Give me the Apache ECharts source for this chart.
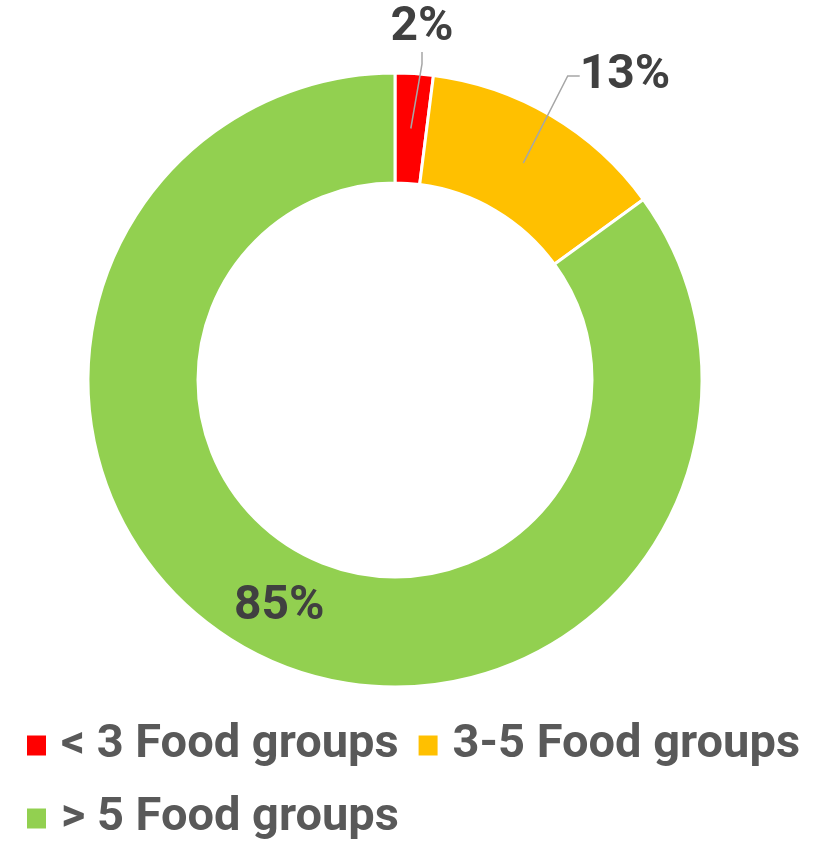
<!DOCTYPE html>
<html>
<head>
<meta charset="utf-8">
<script src="https://cdn.jsdelivr.net/npm/echarts@6/dist/echarts.min.js"></script>
<style>
  html, body { margin: 0; padding: 0; background: #fff; }
  #chart { width: 818px; height: 842px; }
</style>
</head>
<body>
<div id="chart"></div>
<script>
  // data
  const groups = ['< 3 Food groups', '3-5 Food groups', '> 5 Food groups'];
  const shares = [2, 13, 85];
  const colors = ['#FF0000', '#FFC000', '#92D050'];

  // where the outside labels sit (label centres)
  const labelPos = {
    0: { x: 422, y: 28 },
    1: { x: 625, y: 76 }
  };

  const labelFont = {
    fontFamily: 'Roboto',
    fontWeight: 'bold',
    fontSize: 48,
    color: '#404040'
  };

  var myChart = echarts.init(document.getElementById('chart'));

  // ring with the 85% label inside
  const ringData = groups.map((name, i) => ({
    name: name,
    value: shares[i],
    itemStyle: { color: colors[i] },
    label: { show: i === 2 }
  }));

  // transparent pie up to mid ring radius, only carries the leader lines
  const guideData = groups.map((name, i) => ({
    name: name,
    value: shares[i],
    label: { show: i !== 2 },
    labelLine: { show: i !== 2 }
  }));

  let myOption = {
    animation: false,
    legend: {
      data: groups,
      left: 27,
      top: 719,
      width: 790,
      padding: 0,
      orient: 'horizontal',
      icon: 'rect',
      itemWidth: 19,
      itemHeight: 20,
      itemGap: 20,
      itemStyle: { borderWidth: 0 },
      textStyle: {
        fontFamily: 'Roboto',
        fontWeight: 'bold',
        fontSize: 47,
        lineHeight: 53,
        color: '#595959',
        padding: [0, 0, 0, 10]
      }
    },
    series: [
      {
        name: 'ring',
        type: 'pie',
        z: 2,
        center: [395, 380],
        radius: [197, 307],
        startAngle: 90,
        silent: true,
        itemStyle: { borderColor: '#fff', borderWidth: 3 },
        label: Object.assign({ position: 'inside', formatter: '{c}%' }, labelFont),
        labelLine: { show: false },
        data: ringData
      },
      {
        name: 'guide',
        type: 'pie',
        z: 5,
        center: [395, 380],
        radius: [0, 252],
        startAngle: 90,
        silent: true,
        itemStyle: { color: 'transparent', borderWidth: 0 },
        emphasis: { disabled: true },
        label: Object.assign({ position: 'outside', formatter: '{c}%' }, labelFont),
        labelLine: {
          length: 10,
          length2: 12,
          lineStyle: { color: '#A6A6A6', width: 1.5 }
        },
        labelLayout: function (params) {
          const p = labelPos[params.dataIndex];
          if (!p) return {};
          return { x: p.x, y: p.y, align: 'center', verticalAlign: 'middle' };
        },
        data: guideData
      }
    ]
  };
  myChart.setOption(myOption);
</script>
</body>
</html>
